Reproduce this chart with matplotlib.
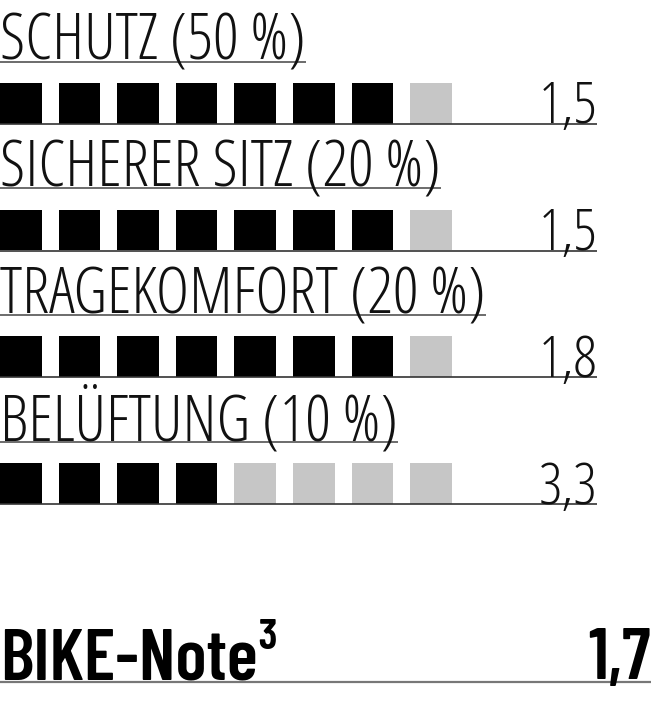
import numpy as np
import matplotlib
matplotlib.use("Agg")
import matplotlib.pyplot as plt
from matplotlib.font_manager import FontProperties

# ratings (German grades, lower is better)
labels = ["SCHUTZ (50 %)", "SICHERER SITZ (20 %)", "TRAGEKOMFORT (20 %)", "BELÜFTUNG (10 %)"]
grades = ["1,5", "1,5", "1,8", "3,3"]
filled = [7, 7, 7, 4]
n_boxes = 8
total_label = "BIKE-Note³"
total_grade = "1,7"

W, H = 651, 720
light = FontProperties(family="Open Sans", stretch="condensed", weight="light", size=46)
value_font = FontProperties(family="Open Sans", stretch="condensed", weight="light", size=42)
bold = FontProperties(family=["Barlow Condensed", "PT Sans Narrow", "Fjalla One", "Oswald"],
	weight="semibold", size=52)

fig = plt.figure(figsize=(W / 100, H / 100), dpi=100)
ax = fig.add_axes([0, 0, 1, 1])
ax.set_xlim(0, W)
ax.set_ylim(H, 0)
ax.axis("off")

pitch = 126.7
box_step = 58.6
box_w = 41.5
box_h = 40.5
line_end = 597

label_texts = []
for i, (lab, g, f) in enumerate(zip(labels, grades, filled)):
	y0 = i * pitch
	t = ax.text(0, 60 + y0, lab, fontproperties=light, va="baseline", ha="left", color="#111111")
	label_texts.append((t, 61.5 + y0))

	xs = np.arange(n_boxes) * box_step
	colors = ["#000000" if k < f else "#c6c6c6" for k in range(n_boxes)]
	ax.bar(xs, box_h, width=box_w, bottom=83 + y0, align="edge", color=colors, linewidth=0)
	ax.plot([0, line_end], [124 + y0, 124 + y0], color="#333333", lw=1.2, solid_capstyle="butt")
	ax.text(line_end, 123.5 + y0, g, fontproperties=value_font, va="baseline", ha="right", color="#111111")

# total grade
ax.text(0, 679, total_label, fontproperties=bold, va="baseline", ha="left", color="#000000")
ax.text(W, 679, total_grade, fontproperties=bold, va="baseline", ha="right", color="#000000")
ax.plot([0, W], [681.5, 681.5], color="#777777", lw=1.6, solid_capstyle="butt")

# underline each label up to the end of its text
fig.canvas.draw()
r = fig.canvas.get_renderer()
for t, yl in label_texts:
	bb = t.get_window_extent(r)
	ax.plot([0, bb.x1], [yl, yl], color="#444444", lw=1.1, solid_capstyle="butt")

fig.savefig("out.png", dpi=100)
